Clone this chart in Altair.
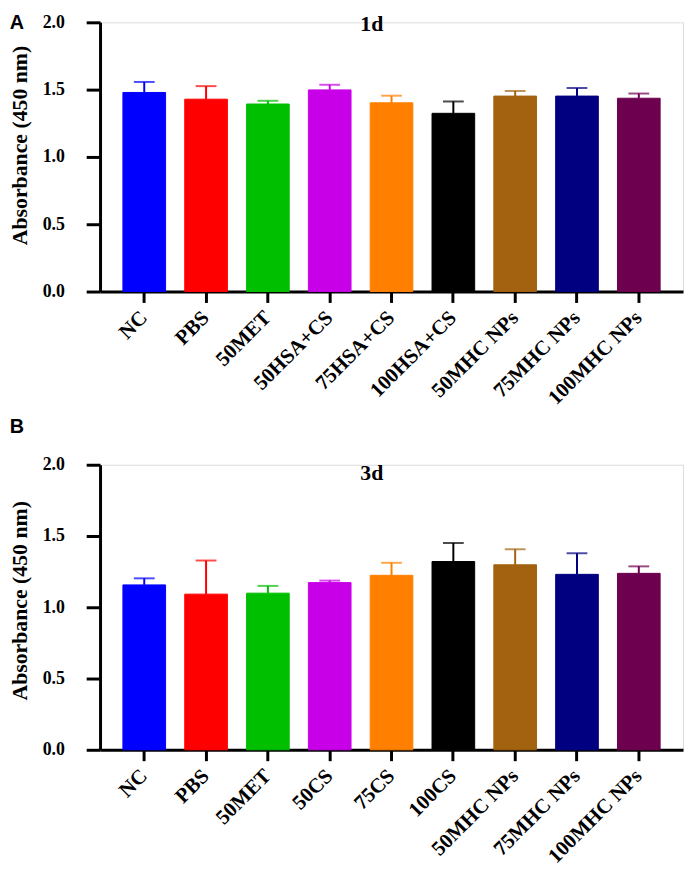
import altair as alt
import pandas as pd

cats_a = ["NC", "PBS", "50MET", "50HSA+CS", "75HSA+CS", "100HSA+CS",
          "50MHC NPs", "75MHC NPs", "100MHC NPs"]
mean_a = [1.479, 1.429, 1.393, 1.498, 1.402, 1.324, 1.452, 1.452, 1.436]
err_a = [1.557, 1.526, 1.417, 1.536, 1.455, 1.412, 1.490, 1.512, 1.471]

cats_b = ["NC", "PBS", "50MET", "50CS", "75CS", "100CS",
          "50MHC NPs", "75MHC NPs", "100MHC NPs"]
mean_b = [1.157, 1.092, 1.099, 1.173, 1.224, 1.321, 1.298, 1.231, 1.238]
err_b = [1.203, 1.328, 1.150, 1.187, 1.312, 1.451, 1.407, 1.379, 1.287]

colors = ["#0000FF", "#FF0000", "#00BF00", "#C800E8", "#FF8000",
          "#000000", "#A3620F", "#000080", "#6E0050"]

y_ticks = [0.0, 0.5, 1.0, 1.5, 2.0]

SERIF = "Liberation Serif"


def panel(cats, means, errs, title, letter, height, title_y, letter_y,
          ytitle_y):
    df = pd.DataFrame({"cat": cats, "mean": means, "top": errs,
                       "col": colors})
    xs = alt.Scale(paddingInner=0.31, paddingOuter=0.37)
    xenc = alt.X("cat:N", sort=cats, title=None, scale=xs,
                 axis=alt.Axis(labelAngle=315, labelAlign="right",
                               labelBaseline="middle",
                               labelFont=SERIF, labelFontSize=21,
                               labelFontWeight="bold", labelColor="black",
                               labelPadding=12,
                               domainColor="black", domainWidth=3,
                               tickColor="black", tickWidth=3, tickSize=11,
                               grid=False))
    yenc = alt.Y("mean:Q", title="Absorbance (450 nm)",
                 scale=alt.Scale(domain=[0, 2]),
                 axis=alt.Axis(values=y_ticks, format=".1f",
                               labelFont=SERIF, labelFontSize=18,
                               labelFontWeight="bold", labelColor="black",
                               labelPadding=22,
                               titleFont=SERIF, titleFontSize=22,
                               titleFontWeight="bold", titleColor="black",
                               titlePadding=11, titleY=ytitle_y,
                               domainColor="black", domainWidth=3,
                               tickColor="black", tickWidth=3, tickSize=14,
                               grid=False))
    cenc = alt.Color("col:N", scale=None, legend=None)
    base = alt.Chart(df)
    bars = base.mark_bar(strokeWidth=1).encode(x=xenc, y=yenc, color=cenc,
                                               stroke=cenc)
    rule = base.mark_rule(strokeWidth=2).encode(
        x=alt.X("cat:N", sort=cats, scale=xs), y="mean:Q", y2="top:Q",
        color=cenc)
    cap = base.mark_tick(thickness=2, size=21).encode(
        x=alt.X("cat:N", sort=cats, scale=xs), y="top:Q", color=cenc)
    lab = alt.Chart(pd.DataFrame({"t": [letter]})).mark_text(
        font="Liberation Sans", fontSize=20, fontWeight="bold",
        color="black", align="center", baseline="middle").encode(
        x=alt.value(-84), y=alt.value(letter_y), text="t:N")
    ttl = alt.Chart(pd.DataFrame({"t": [title]})).mark_text(
        font=SERIF, fontSize=22, fontWeight="bold", color="black",
        align="left", baseline="alphabetic").encode(
        x=alt.value(263), y=alt.value(title_y), text="t:N")
    return alt.layer(rule, cap, bars, lab, ttl).properties(
        width=589, height=height)


pa = panel(cats_a, mean_a, err_a, "1d", "A", 272, 9, 1, 124)
pb = panel(cats_b, mean_b, err_b, "3d", "B", 288, 15, -38, 137)

chart = alt.vconcat(pa, pb, spacing=7).properties(
    padding={"left": 0, "top": 0, "right": 0, "bottom": 0}
).configure_view(stroke=None).configure(background="white")

chart.save("out.html", embed_options={"renderer": "svg", "actions": False})
